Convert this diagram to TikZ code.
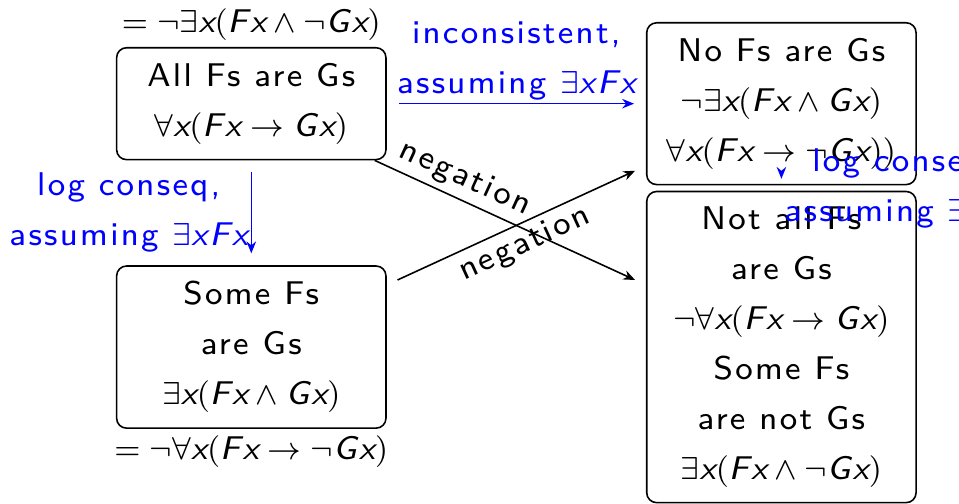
\documentclass[tikz,border=0pt]{standalone}
\usepackage{fontspec}
\IfFontExistsTF{lmsans8-regular.otf}
	{\setmainfont{lmsans8-regular.otf}[ItalicFont=lmsans8-oblique.otf, LetterSpace=7]}
	{\setmainfont{Latin Modern Sans}[LetterSpace=8]}
\usetikzlibrary{arrows.meta, positioning}
\tikzset{
	stmt/.style={rectangle, rounded corners=2.5pt, draw=black, line width=0.4pt, align=center, minimum width=2.39cm, inner sep=3.9pt, font=\fontsize{8.3}{12.6}\selectfont},
	note/.style={inner sep=1.5pt, align=center, font=\fontsize{8.3}{12.6}\selectfont},
	bluenote/.style={note, text=blue, inner sep=0.6pt},
	conseq/.style={-{Stealth[length=3pt, width=2.4pt]}, draw=blue, shorten <=3pt, shorten >=3pt},
	negarrow/.style={-{Stealth[length=3pt, width=2.4pt]}, draw=black, shorten >=3pt},
}

\begin{document}
\begin{tikzpicture}[node distance=0.93cm and 2.30cm]
		\useasboundingbox (0,0) rectangle (8.51,-4.47);
		\node[stmt] (all) at (2.23,-0.92) {All Fs are Gs\\ $\forall\textit{x}(\textit{Fx}\to\textit{Gx})$};
		\node[stmt, below=of all] (some) {Some Fs\\ are Gs\\ $\exists\textit{x}(\textit{Fx}\wedge\textit{Gx})$};
		\node[stmt, right=of all] (no) {No Fs are Gs\\ $\neg\exists\textit{x}(\textit{Fx}\wedge\textit{Gx})$\\ $\forall\textit{x}(\textit{Fx}\to\neg\textit{Gx}))$};
		\node[stmt, right=of some] (notall) {Not all Fs\\ are Gs\\ $\neg\forall\textit{x}(\textit{Fx}\to\textit{Gx})$\\ Some Fs\\ are not Gs\\ $\exists\textit{x}(\textit{Fx}\wedge\neg\textit{Gx})$};
		\node[note, above=0pt of all] (alleq) {$=\neg\exists\textit{x}(\textit{Fx}\wedge\neg\textit{Gx})$};
		\node[note, below=0pt of some] (someeq) {$=\neg\forall\textit{x}(\textit{Fx}\to\neg\textit{Gx})$};
		\draw[conseq] (all) -- node[bluenote, above] {inconsistent,\\ assuming $\exists\textit{xFx}$} (no);
		\draw[conseq] (all) -- node[bluenote, left] {log conseq,\\ assuming $\exists\textit{xFx}$} (some);
		\draw[negarrow] (all) -- node[note, sloped, above, pos=0.3] {negation} (notall);
		\draw[negarrow, shorten <=3pt] (some) -- node[note, sloped, below] {negation} (no);
		\draw[conseq] (no) -- node[bluenote, right] {log conseq,\\ assuming $\exists\textit{xFx}$} (notall);
	\end{tikzpicture}
\end{document}
